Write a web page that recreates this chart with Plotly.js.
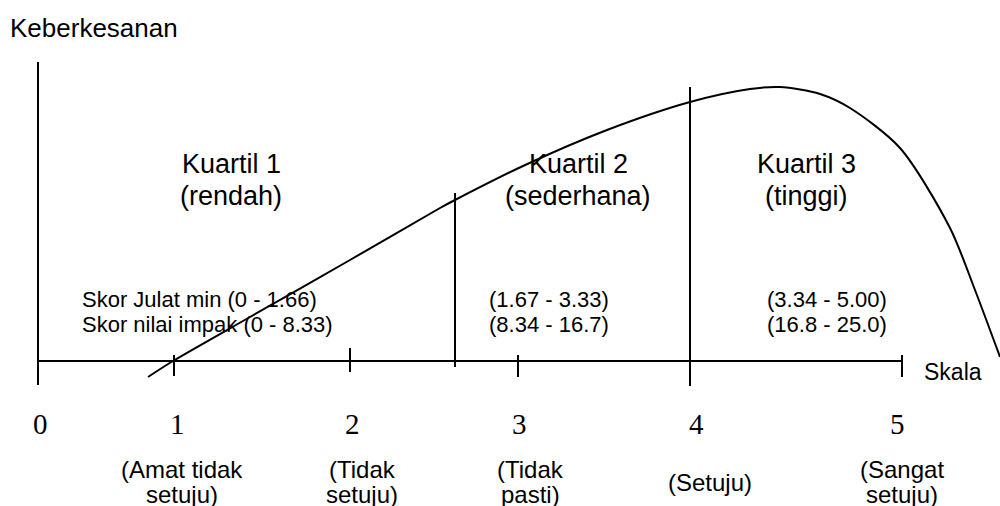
<!DOCTYPE html>
<html>
<head>
<meta charset="utf-8">
<script src="https://cdn.plot.ly/plotly-3.0.1.min.js"></script>
<style>html,body{margin:0;padding:0;background:#fff;}#chart{width:1000px;height:506px;}</style>
</head>
<body>
<div id="chart"></div>
<script>
// Scale (x-axis) positions in diagram units
var scaleLabels = ['0', '1', '2', '3', '4', '5'];
var scaleTickX = [38, 174, 350, 518, 690, 902];
var scaleLabelX = [40, 177, 352, 519, 696, 897];
var scaleDescLine1 = ['', '(Amat tidak', '(Tidak', '(Tidak', '(Setuju)', '(Sangat'];
var scaleDescLine2 = ['', 'setuju)', 'setuju)', 'pasti)', '', 'setuju)'];
var scaleDescX = [0, 182, 362, 530, 710, 902];

// Effectiveness curve (Keberkesanan)
var curveX = [148, 173, 250, 350, 440, 455, 523, 607, 690, 750, 780, 820, 850, 900, 950, 975, 1000];
var curveY = [377, 361, 317, 260, 208, 200, 166, 130, 102, 89, 87, 94, 108, 148, 228, 290, 357];

// Quartile boundaries
var quartileDividerX = [455, 690];
var quartileDividerTop = [193, 87];
var quartileDividerBottom = [367, 386];

// Quartile labels
var quartileNames = ['Kuartil 1', 'Kuartil 2', 'Kuartil 3'];
var quartileLevels = ['(rendah)', '(sederhana)', '(tinggi)'];
var quartileX = [231, 578, 806];
var rangeMin = ['Skor Julat min (0 - 1.66)', '(1.67 - 3.33)', '(3.34 - 5.00)'];
var rangeImpact = ['Skor nilai impak (0 - 8.33)', '(8.34 - 16.7)', '(16.8 - 25.0)'];
var rangeX = [80, 487, 765];

var axisY = 361;
var ink = '#000000';
var sans = 'Arial, "Liberation Sans", sans-serif';
var serif = '"Times New Roman", "Liberation Serif", serif';

var traces = [];
function seg(xs, ys, w) {
  traces.push({x: xs, y: ys, type: 'scatter', mode: 'lines', line: {color: ink, width: w}, hoverinfo: 'skip', showlegend: false});
}
// vertical axis
seg([scaleTickX[0], scaleTickX[0]], [62, 385], 2);
// horizontal axis
seg([scaleTickX[0], scaleTickX[5]], [axisY, axisY], 2);
// ticks
var tickTop = [null, 355, 348, 355, null, 355];
var tickBot = [null, 376, 372, 377, null, 377];
for (var i = 0; i < scaleTickX.length; i++) {
  if (tickTop[i] !== null) seg([scaleTickX[i], scaleTickX[i]], [tickTop[i], tickBot[i]], 2);
}
// dividers
for (var j = 0; j < quartileDividerX.length; j++) {
  seg([quartileDividerX[j], quartileDividerX[j]], [quartileDividerTop[j], quartileDividerBottom[j]], 2);
}
// curve
traces.push({x: curveX, y: curveY, type: 'scatter', mode: 'lines', line: {color: ink, width: 2, shape: 'spline', smoothing: 0.8}, hoverinfo: 'skip', showlegend: false});

var ann = [];
function txt(x, y, t, size, fam, anchor) {
  ann.push({x: x, y: y, xref: 'x', yref: 'y', text: t, showarrow: false, xanchor: anchor || 'center', yanchor: 'middle', align: 'center', font: {family: fam, size: size, color: ink}});
}
txt(8, 28, 'Keberkesanan', 26, sans, 'left');
txt(922, 372, 'Skala', 23, sans, 'left');
for (var q = 0; q < quartileNames.length; q++) {
  txt(quartileX[q], 164, quartileNames[q], 27, sans);
  txt(quartileX[q], 196, quartileLevels[q], 27, sans);
}
for (var r = 0; r < rangeMin.length; r++) {
  txt(rangeX[r], 299, rangeMin[r], 22, sans, 'left');
  txt(rangeX[r], 324, rangeImpact[r], 22, sans, 'left');
}
for (var k = 0; k < scaleLabels.length; k++) {
  txt(scaleLabelX[k], 424, scaleLabels[k], 29, serif);
  if (scaleDescLine1[k] && scaleDescLine2[k]) {
    txt(scaleDescX[k], 469, scaleDescLine1[k], 24, sans);
    txt(scaleDescX[k], 494, scaleDescLine2[k], 24, sans);
  } else if (scaleDescLine1[k]) {
    txt(scaleDescX[k], 482, scaleDescLine1[k], 24, sans);
  }
}

var layout = {
  width: 1000, height: 506,
  margin: {l: 0, r: 0, t: 0, b: 0},
  paper_bgcolor: '#ffffff', plot_bgcolor: '#ffffff',
  xaxis: {range: [0, 1000], visible: false, fixedrange: true},
  yaxis: {range: [506, 0], visible: false, fixedrange: true},
  annotations: ann,
  showlegend: false
};
Plotly.newPlot('chart', traces, layout, {displayModeBar: false, staticPlot: true});
</script>
</body>
</html>
